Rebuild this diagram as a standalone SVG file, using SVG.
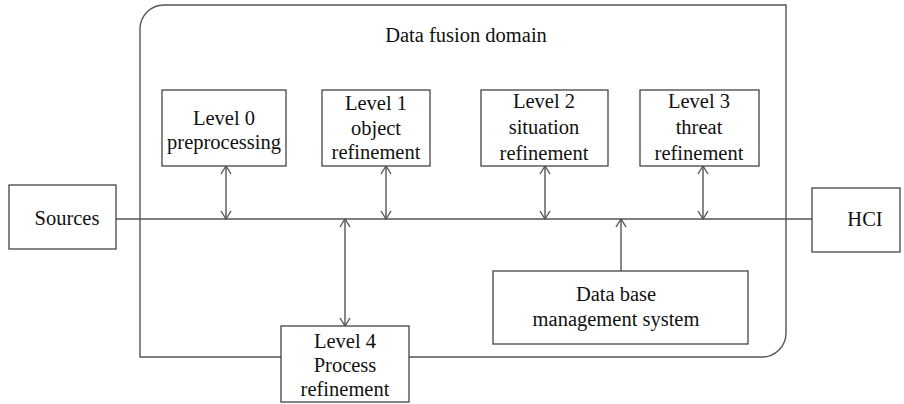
<svg xmlns="http://www.w3.org/2000/svg" width="904" height="404" viewBox="0 0 904 404">
<style>
.box{fill:#fff;stroke:#444;stroke-width:1.3}
.ln{fill:none;stroke:#555;stroke-width:1.4}
.t{font-family:"Liberation Serif","DejaVu Serif",serif;font-size:20.5px;fill:#111;text-anchor:middle}
</style>
<defs>
<marker id="ah" viewBox="0 0 12 12" refX="10" refY="6" markerWidth="12" markerHeight="12" markerUnits="userSpaceOnUse" orient="auto-start-reverse">
<path d="M2,1 L10,6 L2,11" fill="none" stroke="#555" stroke-width="1.4"/>
</marker>
</defs>
<g id="domain">
<path class="ln" d="M164,5 H786 V333 A24,24 0 0 1 762,357 H140 V29 A24,24 0 0 1 164,5 Z"/>
<text class="t" x="466" y="42">Data fusion domain</text>
</g>
<g id="connectors">
<line class="ln" x1="116" y1="219" x2="812" y2="219"/>
<line class="ln" x1="226" y1="166" x2="226" y2="219" marker-start="url(#ah)" marker-end="url(#ah)"/>
<line class="ln" x1="386" y1="166" x2="386" y2="219" marker-start="url(#ah)" marker-end="url(#ah)"/>
<line class="ln" x1="545" y1="166" x2="545" y2="219" marker-start="url(#ah)" marker-end="url(#ah)"/>
<line class="ln" x1="703" y1="166" x2="703" y2="219" marker-start="url(#ah)" marker-end="url(#ah)"/>
<line class="ln" x1="345" y1="219" x2="345" y2="326" marker-start="url(#ah)" marker-end="url(#ah)"/>
<line class="ln" x1="621" y1="271" x2="621" y2="219" marker-end="url(#ah)"/>
</g>
<g id="sources">
<rect class="box" x="9" y="185" width="107" height="64"/>
<text class="t" x="67" y="225">Sources</text>
</g>
<g id="hci">
<rect class="box" x="812" y="188" width="88" height="64"/>
<text class="t" x="865" y="226">HCI</text>
</g>
<g id="level0">
<rect class="box" x="162" y="90" width="124" height="76"/>
<text class="t" x="224" y="125">Level 0</text>
<text class="t" x="224" y="149">preprocessing</text>
</g>
<g id="level1">
<rect class="box" x="322" y="90" width="108" height="76"/>
<text class="t" x="376" y="110">Level 1</text>
<text class="t" x="376" y="135">object</text>
<text class="t" x="376" y="159">refinement</text>
</g>
<g id="level2">
<rect class="box" x="481" y="90" width="127" height="76"/>
<text class="t" x="544" y="108">Level 2</text>
<text class="t" x="544" y="134">situation</text>
<text class="t" x="544" y="160">refinement</text>
</g>
<g id="level3">
<rect class="box" x="640" y="90" width="119" height="76"/>
<text class="t" x="699" y="108">Level 3</text>
<text class="t" x="699" y="134">threat</text>
<text class="t" x="699" y="160">refinement</text>
</g>
<g id="level4">
<rect class="box" x="281" y="326" width="128" height="76"/>
<text class="t" x="345" y="348">Level 4</text>
<text class="t" x="345" y="372">Process</text>
<text class="t" x="345" y="396">refinement</text>
</g>
<g id="dbms">
<rect class="box" x="493" y="271" width="255" height="73"/>
<text class="t" x="616" y="301">Data base</text>
<text class="t" x="616" y="326">management system</text>
</g>
</svg>
